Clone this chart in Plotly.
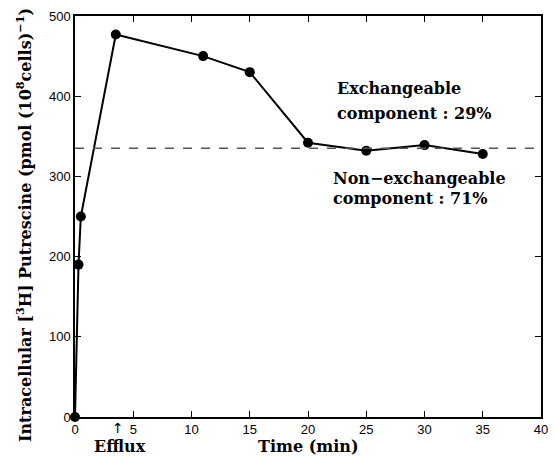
import plotly.graph_objects as go

time_min = [0, 0.3, 0.5, 3.5, 11, 15, 20, 25, 30, 35]
putrescine = [0, 190, 250, 477, 450, 430, 342, 332, 339, 328]
x_ticks = [0, 5, 10, 15, 20, 25, 30, 35, 40]
y_ticks = [0, 100, 200, 300, 400, 500]
plateau_level = 335
efflux_start = 3.7

serif = "DejaVu Serif"

fig = go.Figure()
fig.add_trace(go.Scatter(
    x=time_min, y=putrescine, mode="lines+markers",
    line=dict(color="black", width=2),
    marker=dict(color="black", size=10),
    cliponaxis=False, showlegend=False,
))

fig.add_shape(type="line", xref="x", yref="y", x0=0, x1=40,
              y0=plateau_level, y1=plateau_level,
              line=dict(color="#555555", width=1.5, dash="dash"))

txt_font = dict(family=serif, size=16, color="black")
fig.add_annotation(x=22.3, y=410, xref="x", yref="y", text="<b>Exchangeable</b>",
                   showarrow=False, xanchor="left", yanchor="middle", font=txt_font)
fig.add_annotation(x=22.3, y=379, xref="x", yref="y", text="<b>component : 29%</b>",
                   showarrow=False, xanchor="left", yanchor="middle", font=txt_font)
fig.add_annotation(x=22.0, y=297, xref="x", yref="y", text="<b>Non−exchangeable</b>",
                   showarrow=False, xanchor="left", yanchor="middle", font=txt_font)
fig.add_annotation(x=22.0, y=272, xref="x", yref="y", text="<b>component : 71%</b>",
                   showarrow=False, xanchor="left", yanchor="middle", font=txt_font)

# Efflux marker
fig.add_annotation(x=efflux_start, y=-0.003, xref="x", yref="paper", text="↑",
                   showarrow=False, yanchor="top", font=dict(family="DejaVu Sans", size=14, color="black"))
fig.add_annotation(x=3.9, y=-0.074, xref="x", yref="paper", text="<b>Efflux</b>",
                   showarrow=False, yanchor="middle", font=dict(family=serif, size=16, color="black"))
fig.add_annotation(x=0.5, y=-0.074, xref="paper", yref="paper", text="<b>Time (min)</b>",
                   showarrow=False, yanchor="middle", font=dict(family=serif, size=16, color="black"))

fig.add_annotation(x=-0.108, y=0.478, xref="paper", yref="paper",
                   text="<b>Intracellular [<sup>3</sup>H] Putrescine (pmol (10<sup>8</sup>cells)<sup>−1</sup>)</b>",
                   textangle=-90, showarrow=False, xanchor="center", yanchor="middle",
                   font=dict(family=serif, size=16, color="black"))

axis_common = dict(showline=True, linecolor="black", linewidth=1.5, mirror="ticks",
                   ticks="inside", ticklen=6, tickcolor="black", tickwidth=1.2,
                   showgrid=False, zeroline=False,
                   tickfont=dict(family="Liberation Sans", size=13, color="black"))

fig.update_xaxes(range=[0, 40], tickvals=x_ticks, **axis_common)
fig.update_yaxes(range=[0, 500], tickvals=y_ticks, **axis_common)

fig.update_layout(
    width=557, height=456,
    margin=dict(l=75, r=9, t=15, b=39),
    plot_bgcolor="white", paper_bgcolor="white",
)

fig.write_html("out.html")
